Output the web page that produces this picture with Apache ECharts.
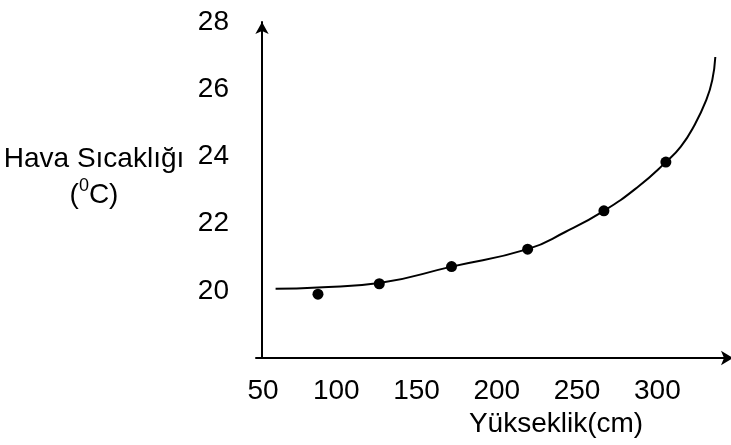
<!DOCTYPE html>
<html>
<head>
<meta charset="utf-8">
<script src="https://cdn.jsdelivr.net/npm/echarts@6/dist/echarts.min.js"></script>
<style>
html,body{margin:0;padding:0;background:#fff;}
#c{width:731px;height:445px;}
</style>
</head>
<body>
<div id="c"></div>
<script>
// Measured points (height in cm, air temperature in °C)
const pointX = [88.6, 126.8, 171.8, 219.2, 266.7, 305.3];
const pointY = [19.9, 20.21, 20.72, 21.24, 22.38, 23.83];
// Trend curve
const curveX = [62.2, 88.4, 126.8, 171.8, 219.2, 242.6, 266.7, 287.8, 305.3, 314.6, 323.1, 330.5, 334.2, 336.1];
const curveY = [20.06, 20.10, 20.23, 20.72, 21.24, 21.75, 22.38, 23.09, 23.83, 24.29, 24.93, 25.68, 26.27, 26.96];
const xTicks = [50, 100, 150, 200, 250, 300];
const yTicks = [20, 22, 24, 26, 28];
const xName = 'Yükseklik(cm)';
const yNameLine1 = 'Hava Sıcaklığı';

const FONT = "'Liberation Sans', Arial, sans-serif";
const FS = 28;
const chart = echarts.init(document.getElementById('c'), null, {renderer: 'canvas'});
chart.setOption({
  animation: false,
  backgroundColor: '#fff',
  grid: {left: 256, right: 0, top: 22, bottom: 87, containLabel: false},
  xAxis: {
    type: 'value', min: 50, max: 344, interval: 50,
    axisLine: {show: true, lineStyle: {color: '#000', width: 2}, symbol: ['none', 'arrow'], symbolSize: [11, 12], symbolOffset: [0, 5]},
    axisTick: {show: false}, splitLine: {show: false},
    axisLabel: {color: '#000', fontFamily: FONT, fontSize: FS, margin: 19,
      formatter: v => v === xTicks[0] ? '{p|' + v + '}' : (xTicks.includes(v) ? String(v) : ''),
      rich: {p: {color: '#000', fontFamily: FONT, fontSize: FS, padding: [0, 0, 0, 14]}}},
    name: xName, nameLocation: 'middle', nameGap: 41,
    nameTextStyle: {color: '#000', fontFamily: FONT, fontSize: FS, align: 'center', padding: [0, 0, 0, 128]}
  },
  yAxis: {
    type: 'value', min: 18, max: 28, interval: 2, offset: -6,
    axisLine: {show: true, onZero: false, lineStyle: {color: '#000', width: 2}, symbol: ['none', 'arrow'], symbolSize: [10, 12], symbolOffset: [0, 0]},
    axisTick: {show: false}, splitLine: {show: false},
    axisLabel: {color: '#000', fontFamily: FONT, fontSize: FS, margin: 33,
      formatter: v => yTicks.includes(v) ? String(v) : ''},
    name: '{a|' + yNameLine1 + '}\n{a|(}{s|0}{a|C)}',
    nameLocation: 'middle', nameRotate: 0, nameGap: 168,
    nameTextStyle: {
      align: 'center', verticalAlign: 'middle', padding: [0, 0, 26, 0],
      rich: {
        a: {color: '#000', fontFamily: FONT, fontSize: FS, lineHeight: 36},
        s: {color: '#000', fontFamily: FONT, fontSize: 18, lineHeight: 36, verticalAlign: 'top', padding: [0, 0, 12, 0]}
      }
    }
  },
  series: [
    {
      type: 'line', data: curveX.map((x, i) => [x, curveY[i]]),
      smooth: 0.5, showSymbol: false, symbol: 'none',
      lineStyle: {color: '#000', width: 2}, z: 2
    },
    {
      type: 'scatter', data: pointX.map((x, i) => [x, pointY[i]]),
      symbol: 'circle', symbolSize: 11, itemStyle: {color: '#000', opacity: 1}, z: 3
    }
  ]
});
</script>
</body>
</html>
